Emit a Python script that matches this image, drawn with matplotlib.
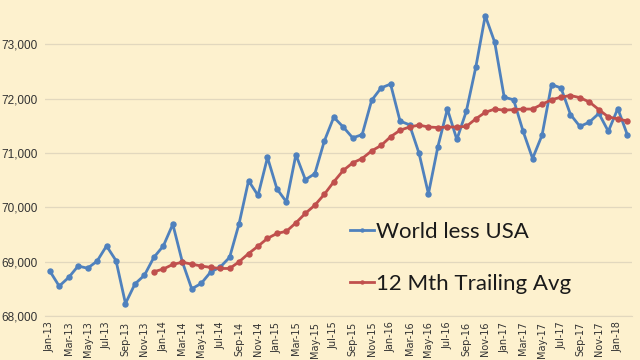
#!/usr/bin/env python3
"""World less USA crude production with 12 month trailing average."""

import matplotlib

matplotlib.use("Agg")
import matplotlib.pyplot as plt
import numpy as np
from matplotlib.ticker import FuncFormatter

months = [
    "Jan-13", "Feb-13", "Mar-13", "Apr-13", "May-13", "Jun-13", "Jul-13", "Aug-13",
    "Sep-13", "Oct-13", "Nov-13", "Dec-13", "Jan-14", "Feb-14", "Mar-14", "Apr-14",
    "May-14", "Jun-14", "Jul-14", "Aug-14", "Sep-14", "Oct-14", "Nov-14", "Dec-14",
    "Jan-15", "Feb-15", "Mar-15", "Apr-15", "May-15", "Jun-15", "Jul-15", "Aug-15",
    "Sep-15", "Oct-15", "Nov-15", "Dec-15", "Jan-16", "Feb-16", "Mar-16", "Apr-16",
    "May-16", "Jun-16", "Jul-16", "Aug-16", "Sep-16", "Oct-16", "Nov-16", "Dec-16",
    "Jan-17", "Feb-17", "Mar-17", "Apr-17", "May-17", "Jun-17", "Jul-17", "Aug-17",
    "Sep-17", "Oct-17", "Nov-17", "Dec-17", "Jan-18", "Feb-18",
]

world_less_usa = [
    68830, 68550, 68710, 68920, 68880, 69010, 69290, 69020,
    68230, 68590, 68750, 69080, 69290, 69690, 69000, 68500,
    68600, 68810, 68900, 69080, 69700, 70490, 70220, 70920,
    70340, 70100, 70970, 70510, 70620, 71220, 71660, 71480,
    71280, 71340, 71970, 72200, 72270, 71590, 71520, 71000,
    70250, 71120, 71810, 71250, 71770, 72580, 73530, 73040,
    72030, 71980, 71400, 70900, 71330, 72260, 72200, 71710,
    71490, 71570, 71730, 71400, 71820, 71340,
]

# trailing average starts once 12 months are available (Dec-13)
trailing_avg = [
    68815, 68865, 68950, 68990, 68955, 68920, 68895, 68875,
    68875, 68998, 69150, 69285, 69430, 69520, 69560, 69715,
    69890, 70040, 70240, 70470, 70680, 70820, 70900, 71040,
    71140, 71300, 71420, 71480, 71515, 71480, 71470, 71480,
    71480, 71490, 71630, 71750, 71810, 71790, 71800, 71810,
    71810, 71900, 71980, 72030, 72060, 72020, 71940, 71800,
    71665, 71630, 71590,
]

blue = "#4F81BD"
red = "#C0504D"
bg = "#FDF1CE"

x_all = np.arange(len(months))
x_avg = x_all[len(months) - len(trailing_avg):]

fig = plt.figure(figsize=(6.4, 3.6), dpi=100, facecolor=bg)
ax = fig.add_axes([45 / 640, 44 / 360, 587 / 640, 315 / 360])
ax.set_facecolor(bg)

ax.plot(x_all, world_less_usa, color=blue, linewidth=2.0, marker="o",
        markersize=3.6, label="World less USA", zorder=3)
ax.plot(x_avg, trailing_avg, color=red, linewidth=2.0, marker="o",
        markersize=3.6, label="12 Mth Trailing Avg", zorder=3)

ax.set_xlim(-0.5, len(months) - 0.5)
ax.set_ylim(68000, 73800)
ax.set_yticks([68000, 69000, 70000, 71000, 72000, 73000])
ax.yaxis.set_major_formatter(FuncFormatter(lambda v, _: f"{int(v):,}"))
ax.set_xticks(x_all[::2])
ax.set_xticklabels(months[::2], rotation=90, fontsize=7, color="#333333")
for lbl in ax.get_yticklabels():
    lbl.set_fontfamily("Liberation Sans")
ax.tick_params(axis="y", labelsize=8.5, colors="#333333", length=0, pad=5)
ax.tick_params(axis="x", length=0, pad=4)

ax.grid(axis="y", color="#E2D8BE", linewidth=0.9)
ax.set_axisbelow(True)
for side in ("top", "right", "left"):
    ax.spines[side].set_visible(False)
ax.spines["bottom"].set_color("#E2D8BE")

leg = ax.legend(loc="upper left", bbox_to_anchor=(0.52, 0.30), frameon=False,
                prop={"family": "Lato", "size": 16}, handlelength=1.05,
                handletextpad=0.12, labelspacing=1.45, markerscale=0.6,
                borderpad=0, borderaxespad=0)
for txt in leg.get_texts():
    txt.set_color("#1a1a1a")

fig.savefig("out.png", dpi=100, facecolor=bg)
